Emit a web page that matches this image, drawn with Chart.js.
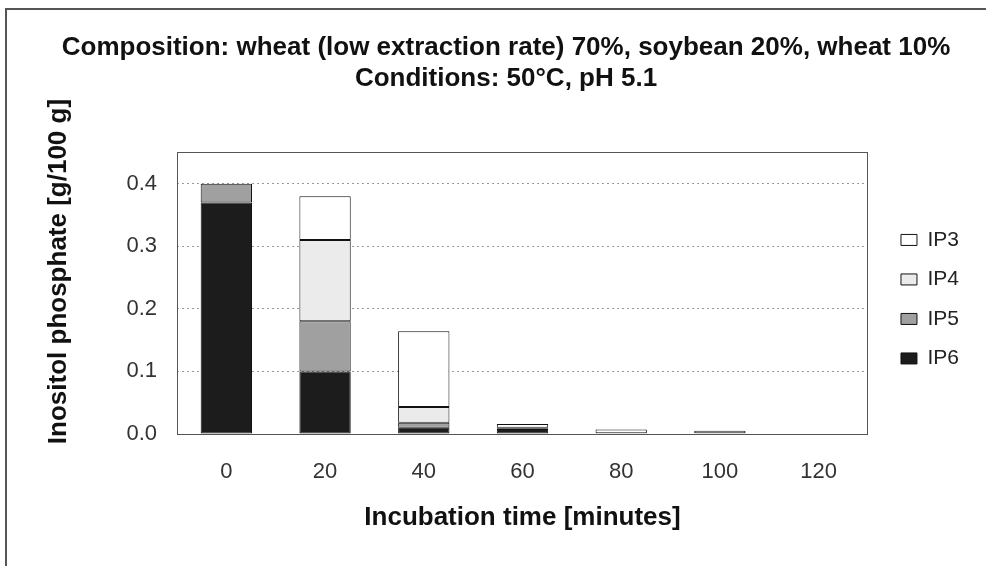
<!DOCTYPE html>
<html><head><meta charset="utf-8">
<script src="https://cdn.jsdelivr.net/npm/chart.js@4/dist/chart.umd.min.js"></script>
<style>
html,body{margin:0;padding:0;background:#fff;overflow:hidden}
#wrap{position:relative;width:986px;height:566px}
#frame{position:absolute;left:5px;top:8px;right:0;bottom:0;border-top:2px solid #555;border-left:2px solid #555;pointer-events:none}
</style></head>
<body><div id="wrap"><canvas id="c" width="986" height="566"></canvas><div id="frame"></div></div>
<script>
const titleLine1 = 'Composition: wheat (low extraction rate) 70%, soybean 20%, wheat 10%';
const titleLine2 = 'Conditions: 50°C, pH 5.1';
const xTitle = 'Incubation time [minutes]';
const yTitle = 'Inositol phosphate [g/100 g]';
const categories = ['0', '20', '40', '60', '80', '100', '120'];
const ip6 = [0.370, 0.100, 0.010, 0.008, 0, 0, 0];
const ip5 = [0.030, 0.080, 0.008, 0.001, 0, 0, 0];
const ip4 = [0, 0.130, 0.025, 0.001, 0.001, 0.001, 0];
const ip3 = [0, 0.070, 0.121, 0.006, 0.006, 0.004, 0];
const seriesNames = ['IP6', 'IP5', 'IP4', 'IP3'];
const seriesColors = ['#1c1c1c', '#a0a0a0', '#ebebeb', '#ffffff'];
const yMin = 0, yMax = 0.45, yStep = 0.1;

const FONT = "'Liberation Sans', Arial, Helvetica, sans-serif";

const areaBorder = {
  id: 'areaBorder',
  afterDraw(chart) {
    const {ctx, chartArea: a} = chart;
    ctx.save();
    ctx.strokeStyle = '#555';
    ctx.lineWidth = 1;
    ctx.strokeRect(Math.round(a.left) + 0.5, Math.round(a.top) + 0.5, Math.round(a.right - a.left) - 1, Math.round(a.bottom - a.top));
    ctx.restore();
  }
};

const seriesData = [ip6, ip5, ip4, ip3];
const datasets = seriesNames.map((n, i) => ({
  label: n,
  data: seriesData[i],
  backgroundColor: seriesColors[i],
  borderColor: '#111',
  borderWidth: 1,
  borderSkipped: false,
  categoryPercentage: 1,
  barPercentage: 0.52,
  stack: 's'
}));

new Chart(document.getElementById('c'), {
  type: 'bar',
  data: { labels: categories, datasets },
  plugins: [areaBorder],
  options: {
    responsive: false,
    animation: false,
    devicePixelRatio: 1,
    layout: { padding: { left: 43, right: 17, top: 10, bottom: 33 } },
    plugins: {
      title: {
        display: true, text: titleLine1, color: '#111',
        font: { family: FONT, size: 26, weight: 'bold', lineHeight: 1.2 },
        padding: { top: 22, bottom: 0 }
      },
      subtitle: {
        display: true, text: titleLine2, color: '#111',
        font: { family: FONT, size: 26, weight: 'bold', lineHeight: 1.2 },
        padding: { top: 0, bottom: 58 }
      },
      legend: {
        display: true, position: 'right', align: 'center', fullSize: false, reverse: true,
        title: { display: true, text: ' ', padding: 0, font: { family: FONT, size: 10, lineHeight: 1.2 } },
        labels: {
          boxWidth: 16, boxHeight: 11, padding: 18.5, color: '#222',
          font: { family: FONT, size: 21 }
        }
      },
      tooltip: { enabled: false }
    },
    scales: {
      x: {
        stacked: true,
        grid: { display: false, drawTicks: false },
        border: { display: false },
        ticks: { color: '#333', font: { family: FONT, size: 22 }, padding: 25 },
        title: { display: true, text: xTitle, color: '#111', padding: 0,
                 font: { family: FONT, size: 26, weight: 'bold', lineHeight: 1.2 } },
        afterFit(s) { s.height = 99; }
      },
      y: {
        stacked: true, min: yMin, max: yMax,
        grid: { drawTicks: false, color: c => (c.tick && c.tick.value === 0) ? 'rgba(0,0,0,0)' : '#9a9a9a', lineWidth: 1 },
        border: { display: false, dash: [2, 3] },
        ticks: { stepSize: yStep, includeBounds: false, color: '#333', padding: 20,
                 font: { family: FONT, size: 22 }, callback: v => Number(v).toFixed(1) },
        title: { display: true, text: '      ' + yTitle, color: '#111', padding: 0,
                 font: { family: FONT, size: 26, weight: 'bold', lineHeight: 1.2 } },
        afterFit(s) { s.width = 134; }
      },
      gap: {
        type: 'linear', position: 'right', display: true,
        grid: { display: false, drawTicks: false }, border: { display: false },
        ticks: { display: false }, title: { display: false },
        afterFit(s) { s.width = 14.5; }
      }
    }
  }
});
</script>
</body></html>
